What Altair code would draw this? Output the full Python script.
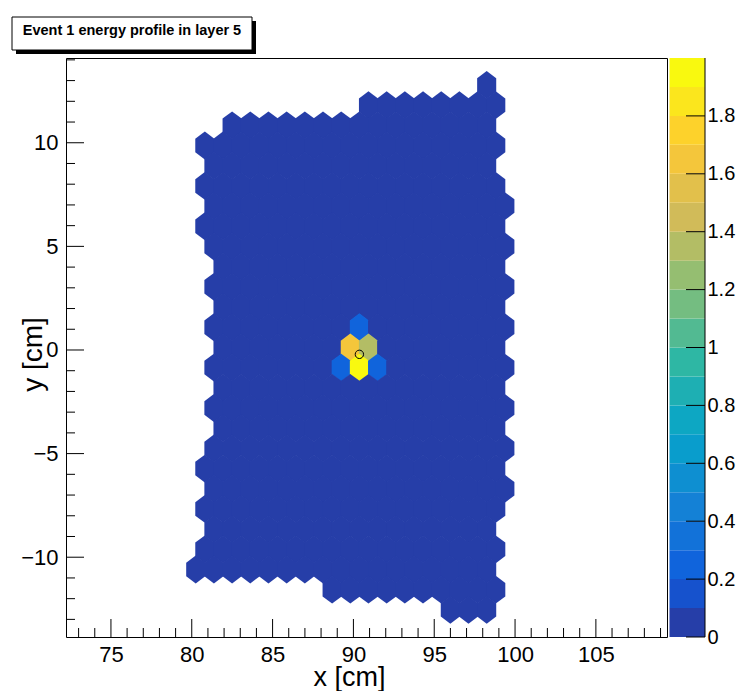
import altair as alt
import pandas as pd
import numpy as np

# ---------------- data ----------------
title_text = "Event 1 energy profile in layer 5"
x_title = "x [cm]"
y_title = "y [cm]"

# hexagonal sensor cells: row index, first / last column index of each row
row_index = [14, 13, 12, 11, 10, 9, 8, 7, 6, 5, 4, 3, 2, 1, 0,
             -1, -2, -3, -4, -5, -6, -7, -8, -9, -10, -11, -12]
col_first = [7, 0, -7, -9, -8, -9, -8, -9, -8, -8, -8, -8, -8, -8, -8,
             -8, -8, -8, -8, -9, -8, -9, -8, -9, -9, -2, 5]
col_last = [7, 7, 7, 7, 7, 7, 8, 7, 8, 7, 8, 7, 8, 7, 8,
            7, 8, 7, 8, 7, 8, 7, 7, 7, 7, 7, 7]

# cells with deposited energy (row, column, energy)
hit_row = [0, 0, 0, 1, 1, 2]
hit_col = [-1, 0, 1, -1, 0, 0]
hit_energy = [0.25, 2.0, 0.25, 1.65, 1.35, 0.25]

# shower position marker
marker_x = [90.37]
marker_y = [-0.21]

# axis ticks
x_major = [75, 80, 85, 90, 95, 100, 105]
x_minor = [v for v in range(73, 110) if v % 5 != 0]
y_major = [-10, -5, 0, 5, 10]
y_minor = [v for v in range(-13, 15) if v % 5 != 0]
z_major = [0, 0.2, 0.4, 0.6, 0.8, 1, 1.2, 1.4, 1.6, 1.8]
z_levels = [0, 0.1, 0.2, 0.3, 0.4, 0.5, 0.6, 0.7, 0.8, 0.9, 1.0,
            1.1, 1.2, 1.3, 1.4, 1.5, 1.6, 1.7, 1.8, 1.9, 2.0]

# ---------------- geometry / style ----------------
X0, Y0 = 90.37, -0.85          # centre of cell (row 0, col 0)
SIDE = 0.6495                  # hexagon side [cm]
W = SIDE * np.sqrt(3)          # column pitch
DY = 1.5 * SIDE                # row pitch
XMIN, XMAX = 72.22, 109.40
YMIN, YMAX = -13.85, 14.09
ZMIN, ZMAX = 0.0, 2.0
WPX, HPX = 601, 579
FONT = "Liberation Sans"

# ROOT kBird palette, 20 contour levels
stops = [0.0, 0.125, 0.25, 0.375, 0.5, 0.625, 0.75, 0.875, 1.0]
red = [0.2082, 0.0592, 0.0780, 0.0232, 0.1802, 0.5301, 0.8186, 0.9956, 0.9764]
green = [0.1664, 0.3599, 0.5041, 0.6419, 0.7178, 0.7492, 0.7328, 0.7862, 0.9832]
blue = [0.5293, 0.8684, 0.8385, 0.7914, 0.6425, 0.4662, 0.3499, 0.1968, 0.0539]
pal = []
for g in range(8):
    n = int(np.floor(255 * stops[g + 1]) - np.floor(255 * stops[g]))
    for c in range(n):
        t = c / n
        pal.append((red[g] + t * (red[g + 1] - red[g]),
                    green[g] + t * (green[g + 1] - green[g]),
                    blue[g] + t * (blue[g + 1] - blue[g])))
ncont = len(z_levels) - 1
band_colors = []
for i in range(ncont):
    r, gg, b = pal[int((i + 0.99) * 255 / ncont)]
    band_colors.append("#%02x%02x%02x" % (round(r * 255), round(gg * 255), round(b * 255)))

cscale = alt.Scale(type="quantize", domain=[ZMIN, ZMAX], range=band_colors, nice=False, zero=False)

# hexagon symbol path in pixels
kx = WPX / (XMAX - XMIN)
ky = HPX / (YMAX - YMIN)
r_px = SIDE * ky
hw_px = W / 2 * kx
grow = 0.45
R = r_px + grow
hx = (hw_px + grow) / R
hy = (r_px / 2) / R
hex_path = (f"M0,-1L{hx:.4f},{-hy:.4f}L{hx:.4f},{hy:.4f}L0,1"
            f"L{-hx:.4f},{hy:.4f}L{-hx:.4f},{-hy:.4f}Z")
hex_size = (2 * R) ** 2

# ---------------- tables ----------------
cells = [(j, k) for j, k0, k1 in zip(row_index, col_first, col_last) for k in range(k0, k1 + 1)]
energy = {(r, c): e for r, c, e in zip(hit_row, hit_col, hit_energy)}
hex_df = pd.DataFrame({
    "x": [X0 + W * (k + 0.5 * (j % 2)) for j, k in cells],
    "y": [Y0 + DY * j for j, k in cells],
    "e": [energy.get((j, k), 0.0) for j, k in cells],
})
marker_df = pd.DataFrame({"x": marker_x, "y": marker_y})
cbar_df = pd.DataFrame({"lo": z_levels[:-1], "hi": z_levels[1:],
                        "mid": [(a + b) / 2 for a, b in zip(z_levels[:-1], z_levels[1:])]})

xscale = alt.Scale(domain=[XMIN, XMAX], nice=False, zero=False)
yscale = alt.Scale(domain=[YMIN, YMAX], nice=False, zero=False)
zscale = alt.Scale(domain=[ZMIN, ZMAX], nice=False, zero=False)

xaxis = alt.Axis(values=x_major, title=x_title, grid=False, ticks=False, tickSize=0,
                 domain=False, labelFont=FONT, labelFontSize=22, labelPadding=7,
                 labelColor="black", labelFlush=False, labelOverlap=False,
                 titleFont=FONT, titleFontSize=27, titleFontWeight="normal",
                 titleColor="black", titleX=283, titleY=48, titleAlign="center",
                 titleBaseline="alphabetic")
yaxis = alt.Axis(values=y_major, title=y_title, grid=False, ticks=False, tickSize=0,
                 domain=False, labelFont=FONT, labelFontSize=22, labelPadding=8,
                 labelColor="black", labelFlush=False, labelOverlap=False,
                 titleFont=FONT, titleFontSize=28, titleFontWeight="normal",
                 titleColor="black", titleX=-25, titleY=296, titleAngle=270,
                 titleAlign="center", titleBaseline="alphabetic")
zaxis = alt.Axis(orient="right", values=z_major, format="~g", title="", grid=False,
                 ticks=False, tickSize=0, domain=False, offset=38, labelPadding=2,
                 labelFont=FONT, labelFontSize=20, labelColor="black",
                 labelAlign="left", labelBaseline="middle", labelFlush=False,
                 labelOverlap=False)

hexes = alt.Chart(hex_df).mark_point(shape=hex_path, filled=True, size=hex_size,
                                     opacity=1, strokeWidth=0).encode(
    x=alt.X("x:Q", scale=xscale, axis=xaxis),
    y=alt.Y("y:Q", scale=yscale, axis=yaxis),
    color=alt.Color("e:Q", scale=cscale, legend=None),
)
marker = alt.Chart(marker_df).mark_point(shape="circle", filled=False, color="black",
                                         size=70, strokeWidth=1, opacity=1).encode(
    x=alt.X("x:Q", scale=xscale, axis=xaxis),
    y=alt.Y("y:Q", scale=yscale, axis=yaxis),
)


def xticks(vals, length):
    return alt.Chart(pd.DataFrame({"v": vals})).mark_rule(color="black", strokeWidth=1).encode(
        x=alt.X("v:Q", scale=xscale, axis=xaxis),
        y=alt.value(HPX), y2=alt.value(HPX - length))


def yticks(vals, length):
    return alt.Chart(pd.DataFrame({"v": vals})).mark_rule(color="black", strokeWidth=1).encode(
        y=alt.Y("v:Q", scale=yscale, axis=yaxis),
        x=alt.value(0), x2=alt.value(length))


main = alt.layer(hexes, marker, xticks(x_major, 18), xticks(x_minor, 9),
                 yticks(y_major, 18), yticks(y_minor, 9))

CB_L, CB_R = 603.5, 639
cbar_rects = alt.Chart(cbar_df).mark_rect().encode(
    y=alt.Y("lo:Q", scale=zscale, axis=zaxis), y2="hi:Q",
    x=alt.value(CB_L), x2=alt.value(CB_R),
    color=alt.Color("mid:Q", scale=cscale, legend=None),
)
cbar_ticks = alt.Chart(pd.DataFrame({"v": z_major})).mark_rule(color="black", strokeWidth=1).encode(
    y=alt.Y("v:Q", scale=zscale, axis=zaxis),
    x=alt.value(CB_R - 19), x2=alt.value(CB_R),
)
cbar = alt.layer(cbar_rects, cbar_ticks)

one = pd.DataFrame({"t": [title_text]})
shadow = alt.Chart(one).mark_rect(color="black").encode(
    x=alt.value(-50), x2=alt.value(190), y=alt.value(-37), y2=alt.value(-4))
box = alt.Chart(one).mark_rect(fill="white", stroke="black", strokeWidth=1).encode(
    x=alt.value(-54), x2=alt.value(186), y=alt.value(-41), y2=alt.value(-8))
title_mark = alt.Chart(one).mark_text(font=FONT, fontSize=14.5, fontWeight="bold",
                                      color="black", align="center",
                                      baseline="alphabetic").encode(
    x=alt.value(66), y=alt.value(-23), text="t:N")
cbar_line = alt.Chart(one).mark_rule(color="black", strokeWidth=1).encode(
    x=alt.value(CB_R), y=alt.value(0), y2=alt.value(HPX))
deco = alt.layer(shadow, box, title_mark, cbar_line)

chart = alt.layer(main, cbar, deco).resolve_scale(y="independent").properties(
    width=WPX, height=HPX,
    padding={"left": 58, "top": 50, "right": 70, "bottom": 54},
    autosize=alt.AutoSizeParams(type="none"),
).configure_view(stroke="black", strokeWidth=1)

chart.save("out.html", embed_options={"renderer": "svg", "actions": False})
